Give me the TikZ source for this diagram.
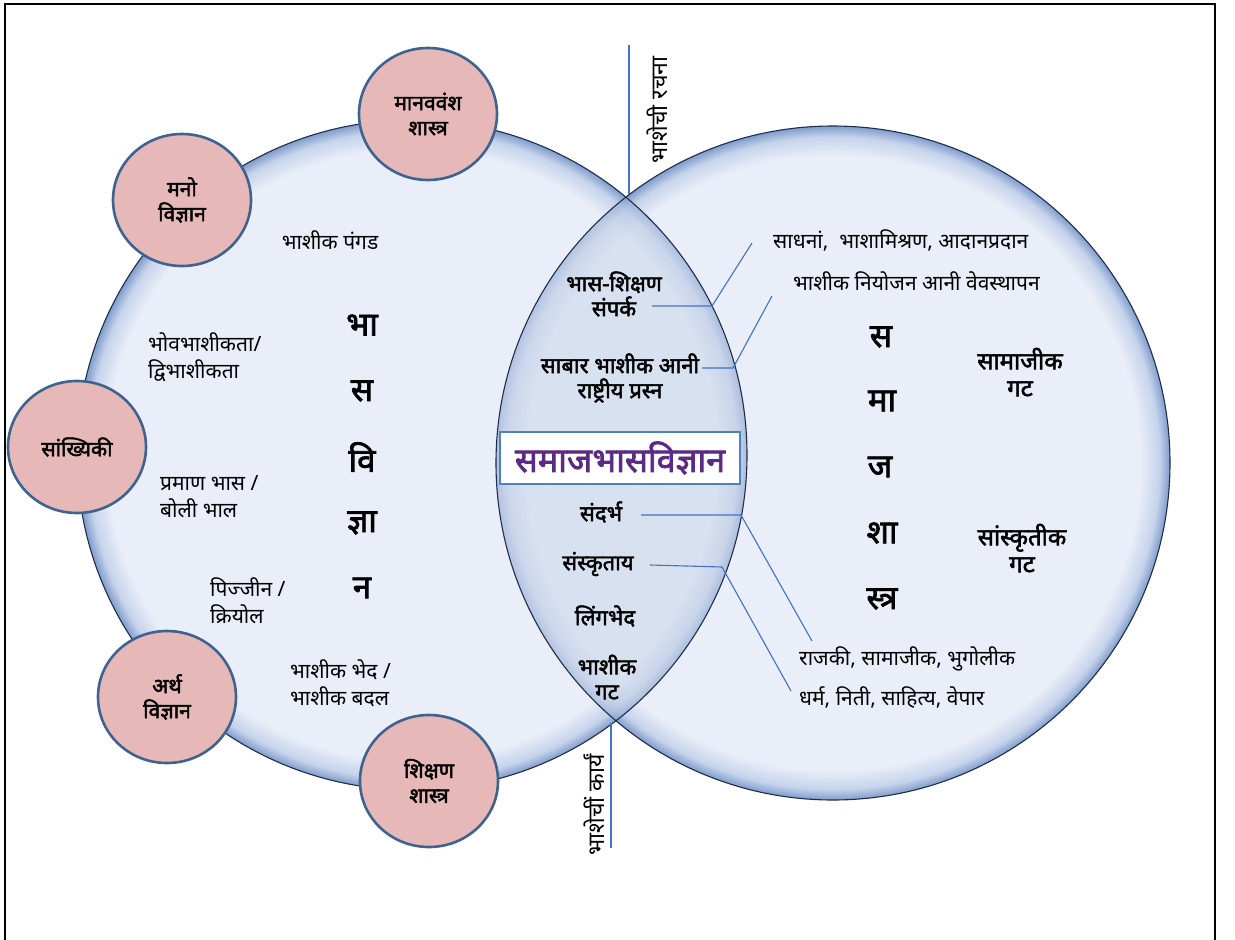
\documentclass[tikz,border=0pt]{standalone}
\usepackage{fontspec}
\newfontfamily\dev[Script=Devanagari]{Noto Sans}
\newfontfamily\devb[Script=Devanagari, FakeBold=2.2]{Noto Sans}
\usetikzlibrary{shapes.geometric}
\definecolor{cfill}{HTML}{E9EEF8}
\definecolor{crimA}{HTML}{C6D3EB}
\definecolor{crimB}{HTML}{809DCC}
\definecolor{cline}{HTML}{1F2D4A}
\definecolor{cpink}{HTML}{E6B8B7}
\definecolor{cedge}{HTML}{3F6391}
\definecolor{cconn}{HTML}{4472C4}
\definecolor{cbox}{HTML}{4F81BD}
\definecolor{cpurple}{HTML}{5B2A82}
\definecolor{clens}{HTML}{9FB3D8}
\pgfdeclareradialshading{rimshade}{\pgfpoint{0bp}{0bp}}{color(0bp)=(cfill); color(22.8bp)=(cfill); color(24.2bp)=(crimA); color(25bp)=(crimB); color(50bp)=(crimB)}
\tikzset{
  bubble/.style={ellipse, draw=cedge, line width=2.6pt, fill=cpink, minimum width=138pt, minimum height=132pt, inner sep=0pt, align=center, font=\devb\fontsize{21}{25}\selectfont},
  txt/.style={inner sep=0pt, align=left, font=\dev\fontsize{21}{27}\selectfont},
  btxt/.style={inner sep=0pt, align=center, font=\devb\fontsize{22}{25}\selectfont},
  gtxt/.style={inner sep=0pt, align=center, font=\devb\fontsize{24}{27}\selectfont},
  bigl/.style={inner sep=0pt, font=\devb\fontsize{33}{36}\selectfont},
  conn/.style={draw=cconn, line width=1.1pt},
}
\begin{document}
\begin{tikzpicture}[x=1pt,y=-1pt]
\useasboundingbox (0,0) rectangle (1235,940);
% frame
\draw[line width=2pt] (5,942) -- (5,4) -- (1215,4) -- (1215,942);
% big circles
\coordinate (cL) at (412,455);
\coordinate (cR) at (833,463);
\path[shading=rimshade] (cL) circle[radius=335pt];
\path[shading=rimshade] (cR) circle[radius=337pt];
\begin{scope}
  \clip (cR) circle[radius=337pt];
  \path[shading=rimshade, fill opacity=0.55] (cL) circle[radius=335pt];
  \fill[clens, opacity=0.22] (cL) circle[radius=335pt];
\end{scope}
\draw[cline, line width=1.1pt] (cL) circle[radius=335pt];
\draw[cline, line width=1.1pt] (cR) circle[radius=337pt];
% vertical lines with labels
\coordinate (topI) at (629,194);
\coordinate (topE) at (629,45);
\coordinate (botI) at (611,723);
\coordinate (botE) at (611,848);
\draw[conn] (topE) -- (topI);
\draw[conn] (botI) -- (botE);
\node[txt, rotate=90, font=\dev\fontsize{23}{27}\selectfont] (rachna) at (657,110) {भाशेची रचना};
\node[txt, rotate=90, font=\dev\fontsize{23}{27}\selectfont] (karya) at (594,805) {भाशेचीं कार्यं};
% bubbles
\node[bubble] (b1) at (428,114) {मानववंश\\शास्त्र};
\node[bubble] (b2) at (182,200) {मनो\\विज्ञान};
\node[bubble] (b3) at (77,447) {सांख्यिकी};
\node[bubble] (b4) at (167,697) {अर्थ\\विज्ञान};
\node[bubble] (b5) at (429,781) {शिक्षण\\शास्त्र};
% left texts
\node[txt] (l1) at (330,240) {भाशीक पंगड};
\node[txt, anchor=west] (l2) at (148,357) {भोवभाशीकता/\\द्विभाशीकता};
\node[txt, anchor=west] (l3) at (160,497) {प्रमाण भास /\\बोली भाल};
\node[txt, anchor=west] (l4) at (210,601) {पिज्जीन /\\क्रियोल};
\node[txt, anchor=west] (l5) at (290,683) {भाशीक भेद /\\भाशीक बदल};
% left vertical word
\node[bigl] (v1) at (362,325) {भा};
\node[bigl] (v2) at (362,391) {स};
\node[bigl] (v3) at (362,457) {वि};
\node[bigl] (v4) at (362,523) {ज्ञा};
\node[bigl] (v5) at (362,588) {न};
% right vertical word
\node[bigl] (w1) at (881,337) {स};
\node[bigl] (w2) at (882,401) {मा};
\node[bigl] (w3) at (880,467) {ज};
\node[bigl] (w4) at (882,533) {शा};
\node[bigl] (w5) at (882,599) {स्त्र};
\node[gtxt] (g1) at (1020,372) {सामाजीक\\गट};
\node[gtxt] (g2) at (1022,548) {सांस्कृतीक\\गट};
% lens texts
\node[btxt] (m1) at (614,294) {भास-शिक्षण\\संपर्क};
\node[btxt] (m2) at (620,378) {साबार भाशीक आनी\\राष्ट्रीय प्रस्न};
\node[draw=cbox, line width=2.6pt, fill=white, minimum width=240pt, minimum height=52pt, inner sep=0pt, text=cpurple, font=\devb\fontsize{34}{36}\selectfont] (title) at (620,458) {समाजभासविज्ञान};
\node[btxt] (m3) at (601,512) {संदर्भ};
\node[btxt] (m4) at (598,564) {संस्कृताय};
\node[btxt] (m5) at (605,616) {लिंगभेद};
\node[btxt] (m6) at (607,677) {भाशीक\\गट};
% right texts
\node[txt, anchor=west] (r1) at (773,240) {साधनां,\ \ भाशामिश्रण, आदानप्रदान};
\node[txt, anchor=west] (r2) at (793,281) {भाशीक नियोजन आनी वेवस्थापन};
\node[txt, anchor=west] (r3) at (799,659) {राजकी, सामाजीक, भुगोलीक};
\node[txt, anchor=west] (r4) at (799,698) {धर्म, निती, साहित्य, वेपार};
% connectors
\coordinate (s1) at (652,306);
\coordinate (k1) at (712,306);
\coordinate (e1) at (752,243);
\coordinate (s2) at (702,368);
\coordinate (k2) at (733,368);
\coordinate (e2) at (772,296);
\coordinate (s3) at (641,515);
\coordinate (k3) at (741,515);
\coordinate (e3) at (812,641);
\coordinate (s4) at (650,565);
\coordinate (k4) at (722,567);
\coordinate (e4) at (791,691);
\draw[conn] (s1) -- (k1) -- (e1);
\draw[conn] (s2) -- (k2) -- (e2);
\draw[conn] (s3) -- (k3) -- (e3);
\draw[conn] (s4) -- (k4) -- (e4);
\end{tikzpicture}
\end{document}
